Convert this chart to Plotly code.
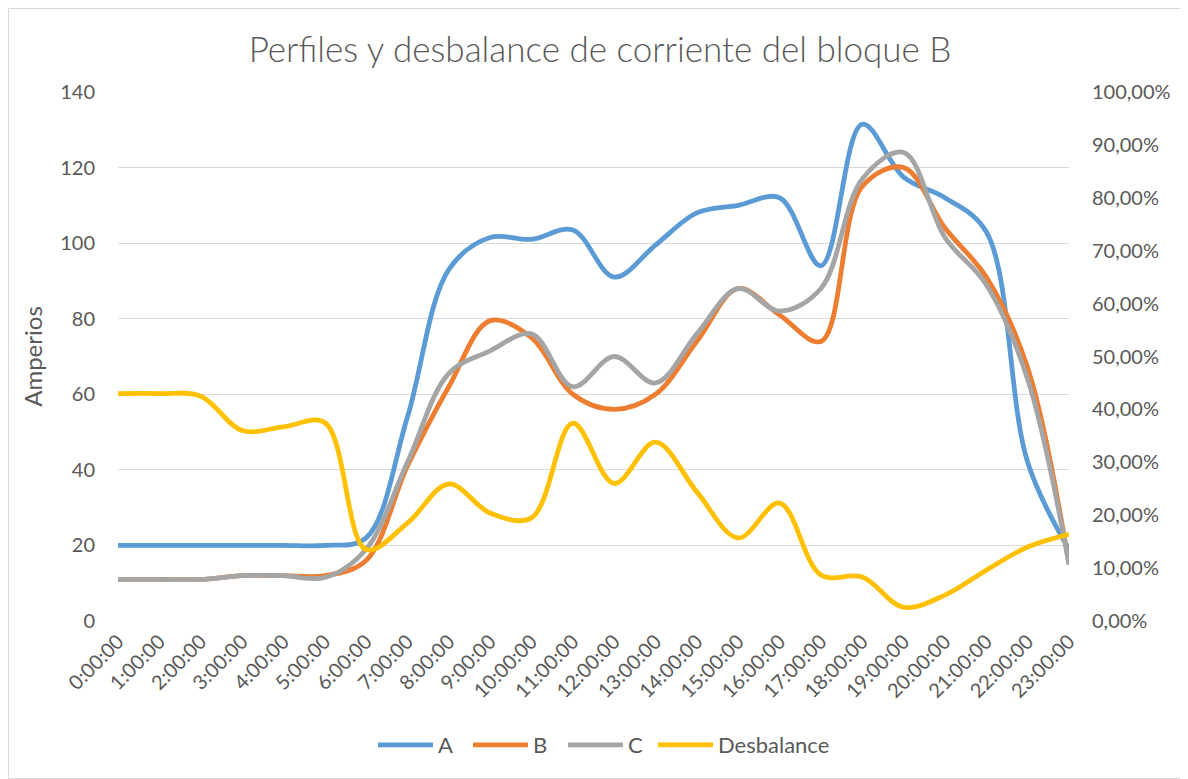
import plotly.graph_objects as go

horas = [f"{h}:00:00" for h in range(24)]

serie_a = [20, 20, 20, 20, 20, 20, 22, 54, 93, 101.5, 101, 103.5, 91, 99.5, 108, 110, 112, 94, 131.5, 117.5, 112, 103, 42, 19]
serie_b = [11, 11, 11, 12, 12, 12, 16, 41, 62, 79.5, 75, 60, 56, 60, 74, 88, 81, 74, 115, 120, 104, 91, 67, 15]
serie_c = [11, 11, 11, 12, 12, 11.5, 19, 42, 65.5, 71.5, 76, 62, 70, 63, 76, 88, 82, 88, 117, 124, 101.5, 89, 64, 15]
desbalance = [0.43, 0.43, 0.425, 0.36, 0.367, 0.375, 0.135, 0.185, 0.259, 0.204, 0.195, 0.374, 0.26, 0.338, 0.244, 0.157, 0.223, 0.087, 0.083, 0.026, 0.049, 0.096, 0.14, 0.164]

nombres = ["A", "B", "C", "Desbalance"]
colores = ["#5B9BD5", "#ED7D31", "#A5A5A5", "#FFC000"]

FONT = "Lato, 'Open Sans', sans-serif"
GRIS = "#595959"

# figure geometry (page body adds an 8px offset)
W, H = 1180, 771
L, R, T, B = 110, 119, 84, 158
PW, PH = W - L - R, H - T - B
LEG_Y = (613 - 737) / PH

fig = go.Figure()
for nombre, valores, color in zip(nombres[:3], [serie_a, serie_b, serie_c], colores[:3]):
    fig.add_trace(go.Scatter(
        x=horas, y=valores, name=nombre, mode="lines",
        line=dict(color=color, width=4.8, shape="spline", smoothing=1),
        yaxis="y", legend="legend",
    ))
fig.add_trace(go.Scatter(
    x=horas, y=desbalance, name=nombres[3], mode="lines",
    line=dict(color=colores[3], width=4.8, shape="spline", smoothing=1),
    yaxis="y2", legend="legend2",
))

fig.update_layout(
    width=W, height=H,
    margin=dict(l=L, r=R, t=T, b=B),
    paper_bgcolor="white", plot_bgcolor="white",
    separators=",.",
    font=dict(family=FONT, color=GRIS, size=20),
    title=dict(
        text="Perfiles y desbalance de corriente del bloque B",
        x=(600 - 8) / W, xanchor="center", y=1 - 42 / H, yanchor="middle",
        font=dict(family=FONT, size=35, color=GRIS, weight=300),
    ),
    xaxis=dict(
        type="category", range=[0, 23], tickangle=-45,
        showgrid=False, zeroline=False, showline=False,
        tickfont=dict(size=20, color=GRIS),
        ticks="", ticklabelstandoff=4,
    ),
    yaxis=dict(
        range=[0, 140], dtick=20, showgrid=True, gridcolor="#D9D9D9", gridwidth=1,
        zeroline=False, showline=False, ticks="",
        tickfont=dict(size=20, color=GRIS), ticklabelstandoff=22,
        title=dict(text="Amperios", font=dict(size=24, color=GRIS), standoff=10),
    ),
    yaxis2=dict(
        range=[0, 1], dtick=0.1, tickformat=".2%", overlaying="y", side="right",
        showgrid=False, zeroline=False, showline=False, ticks="",
        tickfont=dict(size=20, color=GRIS), ticklabelstandoff=22,
    ),
    legend=dict(
        orientation="h", x=(373 - 8 - L) / PW, xanchor="left",
        y=LEG_Y, yanchor="middle",
        font=dict(size=22, color=GRIS), itemwidth=55, traceorder="normal",
        entrywidth=25, entrywidthmode="pixels",
    ),
    legend2=dict(
        orientation="h", x=(653 - 8 - L) / PW, xanchor="left",
        y=LEG_Y, yanchor="middle",
        font=dict(size=22, color=GRIS), itemwidth=55,
    ),
    shapes=[dict(
        type="rect", xref="paper", yref="paper",
        x0=(0.5 - L) / PW, x1=(W - 0.5 - L) / PW,
        y0=(613 - (H - 0.5)) / PH, y1=(613 - 0.5) / PH,
        line=dict(color="#D9D9D9", width=1), fillcolor="rgba(0,0,0,0)", layer="below",
    )],
)

fig.write_html("out.html")
